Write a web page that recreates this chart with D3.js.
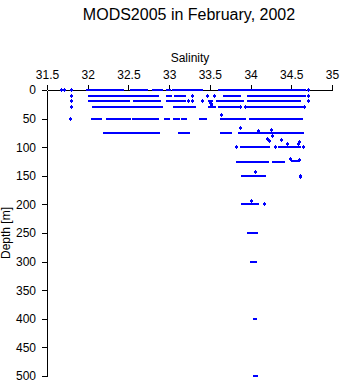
<!DOCTYPE html>
<html>
<head>
<meta charset="utf-8">
<script src="https://cdn.jsdelivr.net/npm/d3@7"></script>
<style>
html,body{margin:0;padding:0;background:#fff;}
svg{display:block;font-family:"Liberation Sans",Arial,Helvetica,sans-serif;}
</style>
</head>
<body>
<svg id="chart" width="341" height="384"></svg>
<script>
const titleText = "MODS2005 in February, 2002";
const xLabel = "Salinity";
const yLabel = "Depth [m]";
const salinityTicks = [31.5, 32, 32.5, 33, 33.5, 34, 34.5, 35];
const depthTicks = [0, 50, 100, 150, 200, 250, 300, 350, 400, 450, 500];

// dense runs of observations: [depth, salinity from, salinity to]
const runs = [
  [0,32.0,32.43],[0,32.54,32.73],[0,32.81,32.91],[0,32.98,33.0],[0,33.05,33.12],[0,33.14,33.22],
  [0,33.26,33.39],[0,33.62,33.71],[0,33.73,33.75],[0,33.77,33.97],[0,34.0,34.6],[0,34.63,34.67],
  [10,32.02,32.05],[10,32.07,32.19],[10,32.21,32.39],[10,32.41,32.48],[10,32.53,32.56],[10,32.57,32.74],
  [10,32.76,32.86],[10,32.98,33.02],[10,33.08,33.12],[10,33.14,33.19],[10,33.68,33.73],[10,33.76,33.86],
  [10,33.98,34.62],[10,34.64,34.67],
  [20,32.02,32.04],[20,32.06,32.19],[20,32.2,32.43],[20,32.45,32.47],[20,32.49,32.5],[20,32.57,32.79],
  [20,32.8,32.88],[20,32.98,33.11],[20,33.14,33.19],[20,33.49,33.52],[20,33.59,33.72],[20,33.76,33.85],
  [20,33.87,33.91],[20,33.97,34.6],
  [30,32.07,32.12],[30,32.14,32.49],[30,32.51,32.54],[30,32.56,32.74],[30,32.76,32.91],[30,33.06,33.11],
  [30,33.13,33.32],[30,33.5,33.56],[30,33.62,33.75],[30,33.77,33.85],[30,33.97,34.62],
  [50,32.06,32.1],[50,32.12,32.16],[50,32.24,32.51],[50,32.56,32.86],[50,32.96,33.0],[50,33.06,33.11],
  [50,33.16,33.2],[50,33.39,33.45],[50,33.64,33.73],[50,33.76,33.81],[50,33.85,33.92],[50,34.0,34.47],
  [50,34.49,34.62],
  [75,32.2,32.23],[75,32.27,32.5],[75,32.52,32.55],[75,32.58,32.87],[75,33.13,33.17],[75,33.19,33.24],
  [75,33.64,33.68],[75,33.7,33.75],[75,33.86,34.63],
  [100,33.89,34.22],[100,34.36,34.6],
  [124,34.52,34.59],
  [125,33.84,33.93],[125,33.94,34.12],[125,34.14,34.21],[125,34.28,34.35],[125,34.37,34.41],
  [150,33.9,34.17],
  [200,33.9,34.09],
  [250,33.97,34.07],
  [300,34.01,34.06],
  [400,34.05,34.06],
  [500,34.05,34.07]
];

// isolated observations: [depth, salinity]
const points = [
  [0,31.67],[0,31.71],[0,31.79],[0,34.7],
  [10,31.79],[10,33.28],[10,33.47],[10,33.55],[10,34.7],
  [20,31.79],[20,33.23],[20,33.28],[20,33.4],[20,34.7],
  [22,33.5],[25,33.51],[28,33.52],
  [30,31.79],[30,33.87],[30,33.93],[30,34.66],
  [43,33.64],
  [50,31.78],
  [67,33.87],[71,34.09],[70,34.25],
  [81,34.26],[86,34.2],[89,34.23],[88,34.37],[95,34.45],[91,34.6],[95,34.58],
  [100,33.82],[100,34.3],[100,34.65],
  [121,34.48],[122,34.59],
  [144,34.05],
  [150,34.61],[152,34.61],
  [194,34.01],
  [200,34.16]
];

const svg = d3.select("#chart");
const x = d3.scaleLinear().domain([31.5, 35]).range([47, 332]);
const y = d3.scaleLinear().domain([0, 500]).range([90, 376]);

svg.append("text").attr("x", 189).attr("y", 20).attr("text-anchor", "middle")
  .attr("font-size", 16).attr("fill", "#000").text(titleText);
svg.append("text").attr("x", 190).attr("y", 62).attr("text-anchor", "middle")
  .attr("font-size", 12).attr("fill", "#000").text(xLabel);
svg.append("text").attr("transform", "translate(10,233) rotate(-90)").attr("text-anchor", "middle")
  .attr("font-size", 12).attr("fill", "#000").text(yLabel);

const gx = svg.append("g").attr("transform", "translate(0,90)")
  .call(d3.axisTop(x).tickValues(salinityTicks).tickFormat(d3.format("")).tickSizeInner(5).tickSizeOuter(0).tickPadding(6));
const gy = svg.append("g").attr("transform", "translate(47,0)")
  .call(d3.axisLeft(y).tickValues(depthTicks).tickFormat(d3.format("")).tickSizeInner(5).tickSizeOuter(0).tickPadding(6));
[gx, gy].forEach(g => {
  g.selectAll("text").attr("font-size", 12).attr("fill", "#000").attr("font-family", "Liberation Sans, Arial, sans-serif");
  g.selectAll("line,path").attr("stroke", "#000").attr("shape-rendering", "crispEdges");
});

const marks = svg.append("g").attr("fill", "#0000ff").attr("shape-rendering", "crispEdges");
marks.selectAll("rect.run").data(runs).join("rect").attr("class", "run")
  .attr("x", d => Math.round(x(d[1]) - 1.5))
  .attr("y", d => Math.round(y(d[0])) - 1)
  .attr("width", d => Math.round(x(d[2]) - x(d[1]) + 3))
  .attr("height", 2);
marks.selectAll("path.pt").data(points).join("path").attr("class", "pt")
  .attr("transform", d => `translate(${Math.round(x(d[1]))},${Math.round(y(d[0]))})`)
  .attr("d", "M-1,-1h3v2h-3z M0,-2h1v4h-1z");
</script>
</body>
</html>
